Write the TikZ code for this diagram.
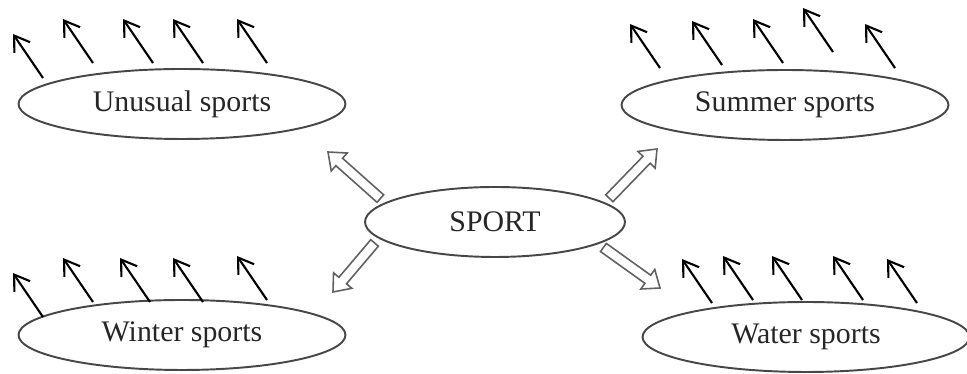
\documentclass[tikz,border=0pt]{standalone}
\usepackage{fontspec}
\setmainfont{Liberation Serif}
\usetikzlibrary{arrows.meta,shapes.geometric,calc}

\begin{document}
\begin{tikzpicture}[
    x=0.02cm, y=0.02cm,
    topic/.style={ellipse, draw=black!72, line width=1.1pt, minimum width=6.54cm, minimum height=1.4cm, text=black!85, font=\fontsize{17}{20}\selectfont},
    maintopic/.style={topic, minimum width=5.2cm},
    arrow/.style={-{Straight Barb[length=2.9mm,width=3.8mm]}, line width=1.2pt},
    bigarrow/.style={draw=black!62, line width=0.9pt, fill=white, to path={
        ($(\tikztostart)!1.2mm!(\tikztotarget)$) coordinate (hs)
        ($(\tikztotarget)!3mm!(hs)$) coordinate (hb)
        ($(hs)!1mm!90:(\tikztotarget)$) -- ($(hb)!1mm!-90:(hs)$) -- ($(hb)!2.4mm!-90:(hs)$) -- (\tikztotarget)
        -- ($(hb)!2.4mm!90:(hs)$) -- ($(hb)!1mm!90:(hs)$) -- ($(hs)!1mm!-90:(\tikztotarget)$) -- cycle}}
]
\useasboundingbox (0,0) rectangle (967,374);

% Topics
\node[maintopic] (sport) at (495,152) {SPORT};
\node[topic] (unusual) at (182,270) {Unusual sports};
\node[topic] (summer) at (785,269) {Summer sports};
\node[topic] (winter) at (182,39) {Winter sports};
\node[topic] (water) at (806,37) {Water sports};

% Hollow arrows out of SPORT
\coordinate (out_ul) at (328,222);
\coordinate (out_ur) at (657,225);
\coordinate (out_ll) at (333,82);
\coordinate (out_lr) at (660,86);
\draw[bigarrow] (sport.170) to (out_ul);
\draw[bigarrow] (sport.10) to (out_ur);
\draw[bigarrow] (sport.188) to (out_ll);
\draw[bigarrow] (sport.348) to (out_lr);

% Unusual sports
\draw[arrow] ($(unusual)+(-139,26)$) -- ++(-30,44) coordinate (u1);
\draw[arrow] ($(unusual)+(-89,41)$) -- ++(-30,44) coordinate (u2);
\draw[arrow] ($(unusual)+(-29,41)$) -- ++(-30,44) coordinate (u3);
\draw[arrow] ($(unusual)+(21,41)$) -- ++(-30,44) coordinate (u4);
\draw[arrow] ($(unusual)+(85,41)$) -- ++(-30,44) coordinate (u5);

% Summer sports
\draw[arrow] ($(summer)+(-125,37)$) -- ++(-30,44) coordinate (s1);
\draw[arrow] ($(summer)+(-63,40)$) -- ++(-30,44) coordinate (s2);
\draw[arrow] ($(summer)+(-2,42)$) -- ++(-30,44) coordinate (s3);
\draw[arrow] ($(summer)+(48,53)$) -- ++(-30,44) coordinate (s4);
\draw[arrow] ($(summer)+(110,37)$) -- ++(-30,44) coordinate (s5);

% Winter sports
\draw[arrow] ($(winter)+(-139,18)$) -- ++(-30,44) coordinate (w1);
\draw[arrow] ($(winter)+(-89,33)$) -- ++(-30,44) coordinate (w2);
\draw[arrow] ($(winter)+(-32,33)$) -- ++(-30,44) coordinate (w3);
\draw[arrow] ($(winter)+(21,33)$) -- ++(-30,44) coordinate (w4);
\draw[arrow] ($(winter)+(85,35)$) -- ++(-30,44) coordinate (w5);

% Water sports
\draw[arrow] ($(water)+(-94,34)$) -- ++(-30,44) coordinate (a1);
\draw[arrow] ($(water)+(-53,37)$) -- ++(-30,44) coordinate (a2);
\draw[arrow] ($(water)+(-4,37)$) -- ++(-30,44) coordinate (a3);
\draw[arrow] ($(water)+(57,37)$) -- ++(-30,44) coordinate (a4);
\draw[arrow] ($(water)+(111,34)$) -- ++(-30,44) coordinate (a5);

\end{tikzpicture}
\end{document}
